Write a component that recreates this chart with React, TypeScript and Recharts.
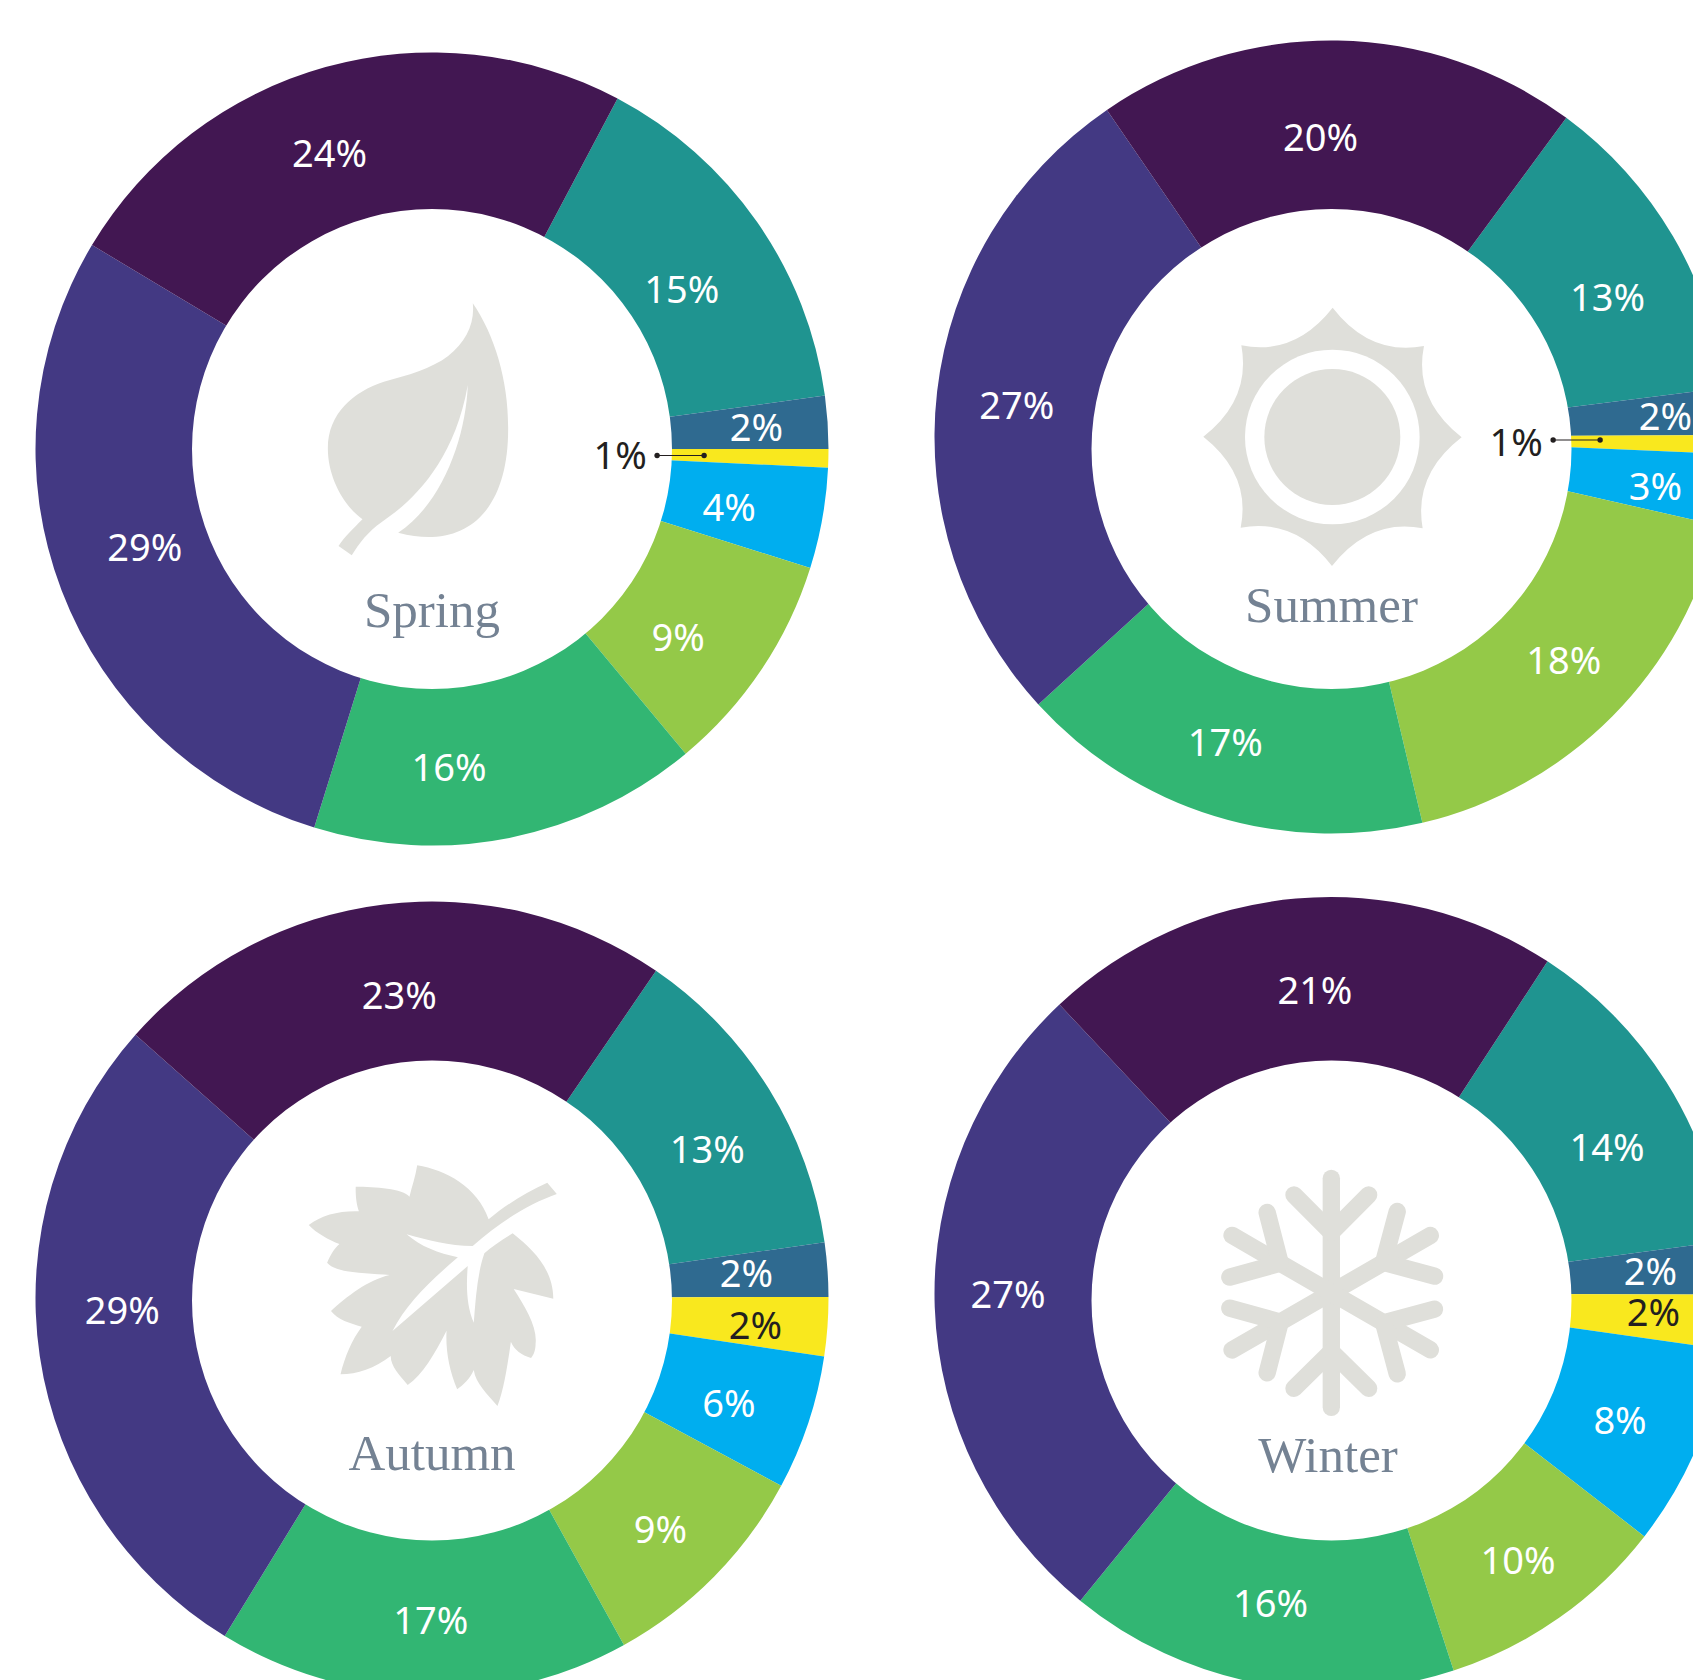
import React from 'react';
import { PieChart, Pie } from 'recharts';

// Slice order, clockwise from the dark purple / teal boundary
const sliceNames = ['Teal', 'Steel blue', 'Yellow', 'Cyan', 'Lime', 'Green', 'Indigo', 'Purple'];
const sliceColors = ['#1F9490', '#2F6A90', '#F9E81E', '#00AEEF', '#94C948', '#32B673', '#433983', '#421752'];

const springValues = [15.1, 2.15, 0.75, 4.1, 9.1, 15.85, 28.8, 24.15];
const summerValues = [12.9, 1.9, 0.75, 2.9, 17.7, 16.9, 27.2, 19.65];
const autumnValues = [13.2, 2.2, 2.4, 5.5, 9.1, 16.8, 27.8, 23.0];
const winterValues = [13.7, 2.15, 2.2, 8.25, 9.5, 15.9, 27.1, 21.2];

const springLabels = ['15%', '2%', '1%', '4%', '9%', '16%', '29%', '24%'];
const summerLabels = ['13%', '2%', '1%', '3%', '18%', '17%', '27%', '20%'];
const autumnLabels = ['13%', '2%', '2%', '6%', '9%', '17%', '29%', '23%'];
const winterLabels = ['14%', '2%', '2%', '8%', '10%', '16%', '27%', '21%'];

// Label nudges from the middle of each slice's ring (px)
const springNudge = [[-11, 21], [7, -2], [-130, -2], [-16, 1], [-18, 10], [-45, 5], [10, -16], [-17, 10]];
const summerNudge = [[2, 20], [17, -2], [-133, -2], [9, 6], [7, -2], [-12, 0], [2, 3], [-16, 17]];
const autumnNudge = [[5, 18], [-3, -3], [6, 3], [-5, 4], [2, 6], [6, 3], [5, -36], [6, 12]];
const winterNudge = [[7, 22], [2, -3], [5, -5], [-4, 2], [4, 5], [-2, -4], [-5, -12], [12, 12]];

const W = 1693;
const H = 1680;
const OUTER = 396.5;
const HOLE = 240;
const ICON = '#DFDFDA';
const TITLE = '#748293';

const seasons = [
  { key: 'Spring', values: springValues, labels: springLabels, nudge: springNudge, start: 27.9, cx: 432, cy: 449, hx: 432, hy: 449, tx: 432, ty: 627, leaderDy: 1, leader: true },
  { key: 'Summer', values: summerValues, labels: summerLabels, nudge: summerNudge, start: 36.4, cx: 1331, cy: 437, hx: 1331.5, hy: 449, tx: 1331.5, ty: 622, leaderDy: -1, leader: true },
  { key: 'Autumn', values: autumnValues, labels: autumnLabels, nudge: autumnNudge, start: 34.4, cx: 432, cy: 1298, hx: 432, hy: 1300.5, tx: 432, ty: 1470, leaderDy: 0, leader: false },
  { key: 'Winter', values: winterValues, labels: winterLabels, nudge: winterNudge, start: 33.1, cx: 1331, cy: 1293.5, hx: 1331.5, hy: 1300.5, tx: 1328, ty: 1472, leaderDy: 0, leader: false },
];

const RAD = Math.PI / 180;

function makeLabel(labels: string[], nudge: number[][], leader: boolean, leaderDy: number) {
  return (p: any) => {
    const r = OUTER * 0.8025;
    const x = p.cx + r * Math.cos(-p.midAngle * RAD) + nudge[p.index][0];
    const y = p.cy + r * Math.sin(-p.midAngle * RAD) + nudge[p.index][1];
    const yellow = p.index === 2;
    return (
      <g key={p.index}>
        <text x={x} y={y} textAnchor="middle" dominantBaseline="central" fontFamily="'Noto Sans'" fontSize={38} fill={yellow ? '#231F20' : '#FFFFFF'}>
          {labels[p.index]}
        </text>
        {yellow && leader ? (
          <g>
            <line x1={x + 37} y1={y + leaderDy} x2={x + 84} y2={y + leaderDy} stroke="#231F20" strokeWidth={1.2} />
            <circle cx={x + 37} cy={y + leaderDy} r={2.7} fill="#231F20" />
            <circle cx={x + 84} cy={y + leaderDy} r={2.7} fill="#231F20" />
          </g>
        ) : null}
      </g>
    );
  };
}

const hole = [{ name: 'hole', value: 1 }];

function Titles() {
  return (
    <g>
      {seasons.map((s) => (
        <text key={s.key} x={s.tx} y={s.ty} textAnchor="middle" fontFamily="'Liberation Serif'" fontSize={51} fill={TITLE}>
          {s.key}
        </text>
      ))}
    </g>
  );
}

function SpringIcon() {
  return (
    <g transform="translate(300 280) scale(0.357 0.3333)">
      <path fill={ICON} d="M484 70 C490 130 465 185 415 228 C370 265 300 287 235 305 C150 335 78 400 78 505 C78 590 120 675 175 718 C150 745 125 770 108 798 L145 826 C165 790 190 755 230 725 C300 675 430 560 470 315 C465 470 400 670 275 758 C310 768 340 772 370 771 C510 765 585 640 583 440 C583 300 545 165 484 70 Z" />
    </g>
  );
}

function SummerIcon() {
  return (
    <g transform="translate(1180 280) scale(0.3333)">
      <path fill={ICON} d="M458 83 Q570 228 732 198 Q700 358 845 472 Q700 584 728 745 Q570 714 456 858 Q344 714 182 743 Q214 584 70 470 Q214 358 184 196 Q344 228 458 83 Z" />
      <circle cx={457} cy={471} r={262} fill="#FFFFFF" />
      <circle cx={457} cy={471} r={204} fill={ICON} />
    </g>
  );
}

function AutumnIcon() {
  return (
    <g transform="translate(290 1140) scale(0.3534 0.3333)">
      <path fill={ICON} d="M728 128 L755 162 C680 190 600 240 517 318 C450 318 390 300 330 283 C370 320 420 340 475 352 C400 420 330 490 290 573 L503 378 C498 440 500 500 520 548 C525 480 530 400 550 340 C570 320 600 300 630 280 C690 330 745 390 745 476 L633 447 C665 500 700 560 695 610 C695 630 690 645 682 654 C655 645 635 630 625 605 C615 680 605 750 587 798 C560 765 525 730 520 690 C510 715 490 735 473 748 C450 690 440 630 443 572 C410 640 375 705 333 735 C310 705 285 680 285 648 C240 685 190 703 143 703 C155 650 175 600 203 560 C170 550 135 540 116 513 C160 470 220 420 282 405 C220 400 130 400 105 368 C115 345 125 325 140 312 C110 300 75 280 53 255 C90 225 140 212 195 214 C188 195 185 165 186 140 C240 140 320 145 338 170 C345 140 355 110 360 76 C440 90 530 140 562 238 C610 195 670 155 728 128 Z" />
    </g>
  );
}

function WinterIcon() {
  const arm = (
    <g>
      <line x1={454} y1={115} x2={454} y2={802} />
      <line x1={454} y1={277} x2={342} y2={165} />
      <line x1={454} y1={277} x2={566} y2={165} />
      <line x1={454} y1={635} x2={342} y2={745} />
      <line x1={454} y1={635} x2={566} y2={745} />
    </g>
  );
  return (
    <g transform="translate(1180 1140) scale(0.3333)" stroke={ICON} strokeWidth={52} strokeLinecap="round" fill="none">
      {arm}
      <g transform="rotate(60 454 458)">{arm}</g>
      <g transform="rotate(120 454 458)">{arm}</g>
    </g>
  );
}

export default function App() {
  return (
    <div style={{ position: 'absolute', left: 0, top: 0, width: W, height: H, overflow: 'hidden', background: '#fff' }}>
      <PieChart width={W} height={H} margin={{ top: 0, right: 0, bottom: 0, left: 0 }}>
        {seasons.map((s) => (
          <Pie
            key={s.key + '-slices'}
            data={s.values.map((v, i) => ({ name: sliceNames[i], value: v, fill: sliceColors[i] }))}
            dataKey="value"
            nameKey="name"
            cx={s.cx}
            cy={s.cy}
            innerRadius={190}
            outerRadius={OUTER}
            startAngle={90 - s.start}
            endAngle={90 - s.start - 360}
            stroke="none"
            label={false}
            labelLine={false}
            isAnimationActive={false}
          />
        ))}
        {seasons.map((s) => (
          <Pie
            key={s.key + '-hole'}
            data={hole}
            dataKey="value"
            cx={s.hx}
            cy={s.hy}
            innerRadius={0}
            outerRadius={HOLE}
            fill="#FFFFFF"
            stroke="none"
            label={false}
            labelLine={false}
            isAnimationActive={false}
          />
        ))}
        {seasons.map((s) => (
          <Pie
            key={s.key + '-labels'}
            data={s.values.map((v, i) => ({ name: sliceNames[i], value: v }))}
            dataKey="value"
            nameKey="name"
            cx={s.cx}
            cy={s.cy}
            innerRadius={HOLE}
            outerRadius={OUTER}
            startAngle={90 - s.start}
            endAngle={90 - s.start - 360}
            fill="none"
            stroke="none"
            label={makeLabel(s.labels, s.nudge, s.leader, s.leaderDy)}
            labelLine={false}
            isAnimationActive={false}
          />
        ))}
      </PieChart>
      <svg width={W} height={H} style={{ position: 'absolute', left: 0, top: 0, pointerEvents: 'none' }}>
        <SpringIcon />
        <SummerIcon />
        <AutumnIcon />
        <WinterIcon />
        <Titles />
      </svg>
    </div>
  );
}
